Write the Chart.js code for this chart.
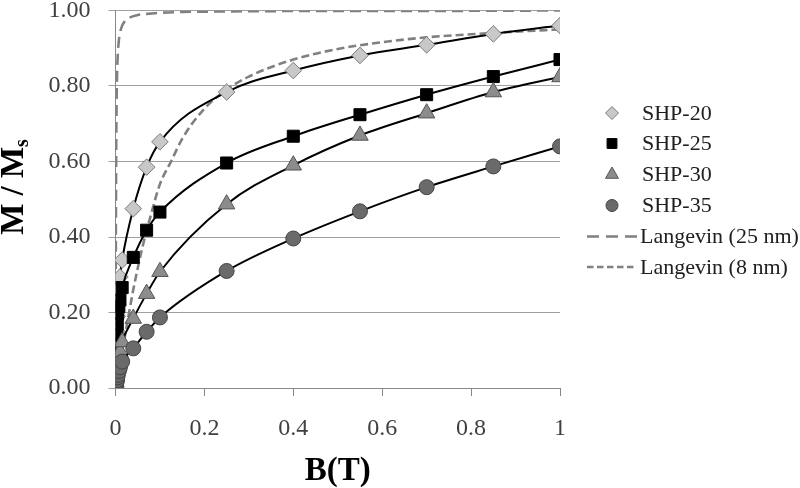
<!DOCTYPE html>
<html>
<head>
<meta charset="utf-8">
<script src="https://cdn.jsdelivr.net/npm/chart.js@4"></script>
<style>
  body { margin: 0; background: #fff; }
  #wrap { width: 800px; height: 488px; }
</style>
</head>
<body>
<div id="wrap"><canvas id="myChart"></canvas></div>
<script>
// LES DONNEES : ------------------------------------------------------------------
// champ magnétique B (T) des mesures
const champs = [0, 0.001, 0.002, 0.003, 0.004, 0.005, 0.0075, 0.01, 0.015, 0.04, 0.07, 0.1, 0.25, 0.4, 0.55, 0.7, 0.85, 1];
// M / Ms pour chaque échantillon
const shp20 = [0, 0.06, 0.11, 0.15, 0.19, 0.228, 0.26, 0.294, 0.339, 0.475, 0.585, 0.652, 0.784, 0.841, 0.881, 0.909, 0.938, 0.96];
const shp25 = [0, 0.05, 0.10, 0.14, 0.17, 0.198, 0.215, 0.233, 0.266, 0.346, 0.418, 0.466, 0.596, 0.667, 0.724, 0.777, 0.825, 0.87];
const shp30 = [0, 0.015, 0.03, 0.045, 0.06, 0.07, 0.085, 0.096, 0.122, 0.184, 0.25, 0.308, 0.487, 0.59, 0.669, 0.728, 0.784, 0.824];
const shp35 = [0, 0.007, 0.014, 0.02, 0.028, 0.035, 0.045, 0.055, 0.07, 0.105, 0.149, 0.187, 0.31, 0.396, 0.468, 0.532, 0.587, 0.64];

// courbes de Langevin
const champsL25 = [0, 0.0005, 0.001, 0.002, 0.003, 0.005, 0.0075, 0.01, 0.015, 0.02, 0.03, 0.05, 0.07, 0.1, 0.15, 0.2, 0.3, 0.5, 0.7, 1];
const langevin25 = [0, 0.27, 0.47, 0.70, 0.80, 0.88, 0.92, 0.94, 0.96, 0.97, 0.98, 0.988, 0.991, 0.994, 0.996, 0.997, 0.998, 0.999, 0.999, 1.0];
const champsL8 = [0, 0.02, 0.04, 0.06, 0.08, 0.1, 0.125, 0.15, 0.2, 0.25, 0.3, 0.4, 0.5, 0.6, 0.7, 0.8, 0.9, 1];
const langevin8 = [0, 0.13, 0.26, 0.37, 0.46, 0.54, 0.6, 0.66, 0.74, 0.79, 0.825, 0.87, 0.898, 0.916, 0.929, 0.937, 0.944, 0.95];

const xTickLabels = ['0', '0.2', '0.4', '0.6', '0.8', '1'];
const yTickLabels = ['0.00', '0.20', '0.40', '0.60', '0.80', '1.00'];
const legendLabels = ['SHP-20', 'SHP-25', 'SHP-30', 'SHP-35', 'Langevin (25 nm)', 'Langevin (8 nm)'];

// LES VARIABLES : ---------------------------------------------------------------
const ctx = document.getElementById('myChart');
const police = '"Liberation Serif", "Times New Roman", serif';

function points(xs, ys) {
  return xs.map((x, i) => ({ x: x, y: ys[i] }));
}

function serie(label, ys, style, radius, fond, bord, ordre) {
  return {
    label: label,
    data: points(champs, ys),
    showLine: true,
    borderColor: '#000',
    borderWidth: 2,
    cubicInterpolationMode: 'monotone',
    pointStyle: style,
    pointRadius: radius,
    pointHoverRadius: radius,
    pointBackgroundColor: fond,
    pointBorderColor: bord,
    pointBorderWidth: 1,
    order: ordre
  };
}

const datasets = [
  serie(legendLabels[0], shp20, 'rectRot', 8.3, '#c8c8c8', '#7a7a7a', 4),
  serie(legendLabels[1], shp25, 'rect', 8.5, '#000', '#000', 3),
  serie(legendLabels[2], shp30, 'triangle', 9.5, '#8c8c8c', '#555', 2),
  serie(legendLabels[3], shp35, 'circle', 7.5, '#6a6a6a', '#444', 1),
  {
    label: legendLabels[4],
    data: points(champsL25, langevin25),
    showLine: true,
    borderColor: '#808080',
    borderWidth: 2.6,
    borderDash: [11, 6],
    cubicInterpolationMode: 'monotone',
    pointRadius: 0,
    order: 6
  },
  {
    label: legendLabels[5],
    data: points(champsL8, langevin8),
    showLine: true,
    borderColor: '#808080',
    borderWidth: 2.6,
    borderDash: [8, 4],
    cubicInterpolationMode: 'monotone',
    pointRadius: 0,
    order: 5
  }
];

// titre de l'axe y avec l'indice "s"
const titreY = {
  id: 'titreY',
  afterDraw(chart) {
    const c = chart.ctx;
    c.save();
    c.translate(23, 187);
    c.rotate(-Math.PI / 2);
    c.fillStyle = '#000';
    c.textBaseline = 'alphabetic';
    c.font = 'bold 33px ' + police;
    const wM = c.measureText('M / M').width;
    c.font = 'bold 20px ' + police;
    const wS = c.measureText('s').width;
    const debut = -(wM + wS) / 2;
    c.font = 'bold 33px ' + police;
    c.fillText('M / M', debut, 0);
    c.font = 'bold 20px ' + police;
    c.fillText('s', debut + wM, 5);
    c.restore();
  }
};

// légende dessinée à droite
const legende = {
  id: 'legende',
  afterDraw(chart) {
    const c = chart.ctx;
    const lignes = [113, 143.5, 174.5, 205.5, 236.5, 267];
    const tailles = [6.5, 7, 7.5, 6];
    c.save();
    c.font = '22px ' + police;
    c.textBaseline = 'middle';
    c.fillStyle = '#202020';
    datasets.forEach((ds, i) => {
      const y = lignes[i];
      if (i < 4) {
        c.save();
        c.fillStyle = ds.pointBackgroundColor;
        c.strokeStyle = ds.pointBorderColor;
        c.lineWidth = 1;
        if (Chart.helpers && Chart.helpers.drawPoint) {
          Chart.helpers.drawPoint(c, { pointStyle: ds.pointStyle, radius: tailles[i], rotation: 0, borderWidth: 1 }, 612, y);
        }
        c.restore();
        c.fillText(ds.label, 642, y + 1);
      } else {
        c.save();
        c.strokeStyle = ds.borderColor;
        c.lineWidth = 2.6;
        c.setLineDash(i === 4 ? [12, 7] : [6.5, 3.5]);
        c.beginPath();
        c.moveTo(587, y);
        c.lineTo(637, y);
        c.stroke();
        c.restore();
        c.fillText(ds.label, 640, y + 1);
      }
    });
    c.restore();
  }
};

new Chart(ctx, {
  type: 'scatter',
  data: { datasets: datasets },
  options: {
    responsive: true,
    maintainAspectRatio: false,
    animation: false,
    layout: { padding: { top: 10, right: 240, left: 0, bottom: 0 } },
    plugins: {
      legend: { display: false },
      tooltip: { enabled: false }
    },
    scales: {
      x: {
        type: 'linear',
        min: 0,
        max: 1,
        afterFit: s => { s.height = 100; },
        border: { color: '#888', width: 1 },
        grid: { drawOnChartArea: false, drawTicks: true, tickLength: 8, color: '#888' },
        ticks: {
          stepSize: 0.2,
          padding: 18,
          color: '#404040',
          maxRotation: 0,
          font: { family: police, size: 24 },
          callback: (v, i) => xTickLabels[i]
        },
        title: {
          display: true,
          text: 'B(T)',
          color: '#000',
          padding: 0,
          font: { family: police, size: 33, weight: 'bold', lineHeight: 1 }
        }
      },
      y: {
        min: 0,
        max: 1,
        afterFit: s => { s.width = 115.5; s.paddingTop = 0; s.paddingBottom = 0; },
        border: { color: '#888', width: 1 },
        grid: { color: '#a0a0a0', tickLength: 7, drawTicks: true },
        ticks: {
          stepSize: 0.2,
          padding: 18,
          color: '#404040',
          font: { family: police, size: 24 },
          callback: (v, i) => yTickLabels[i]
        }
      }
    }
  },
  plugins: [titreY, legende]
});
</script>
</body>
</html>
